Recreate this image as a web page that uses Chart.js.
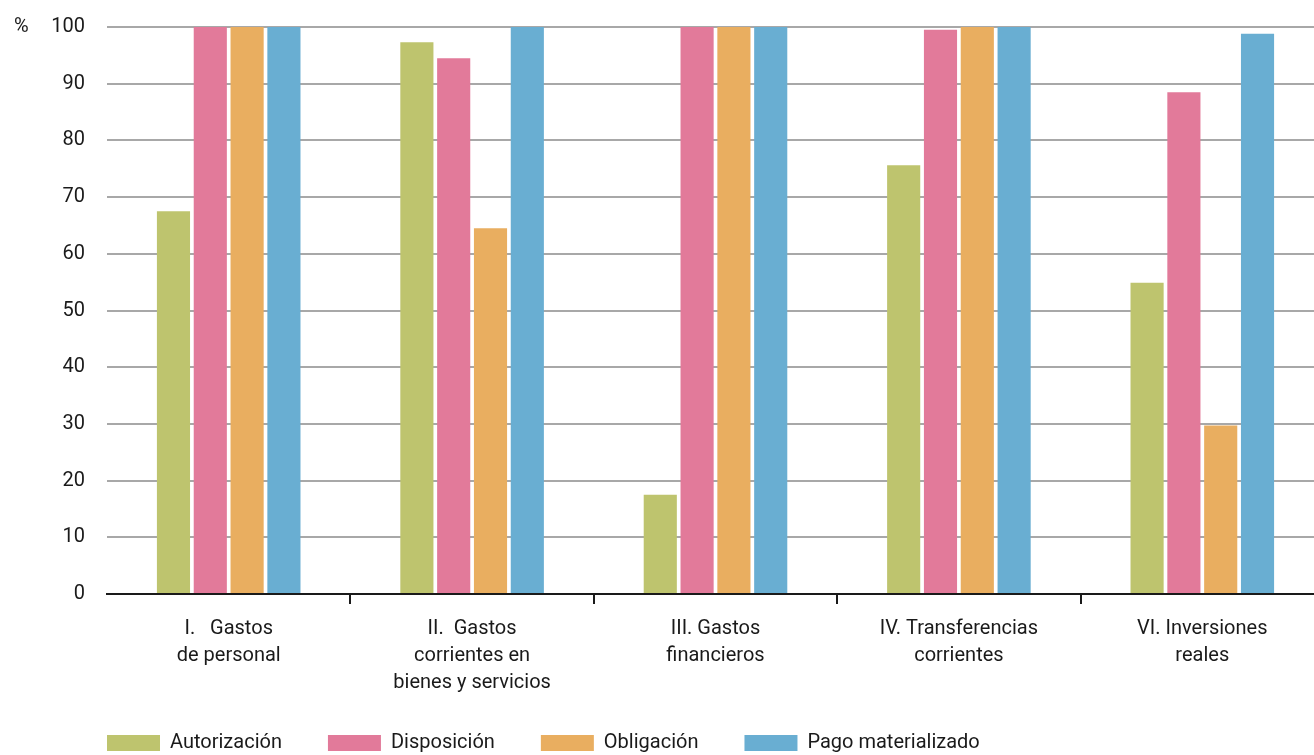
<!DOCTYPE html>
<html>
<head>
<meta charset="utf-8">
<script src="https://cdn.jsdelivr.net/npm/chart.js@4"></script>
<style>
  html, body { margin: 0; padding: 0; background: #fff; overflow: hidden; }
  /* el área de trazado sigue unos píxeles más allá del borde derecho */
  #wrap { width: 1314px; height: 755px; overflow: hidden; }
</style>
</head>
<body>
<div id="wrap"><canvas id="chart" width="1324" height="755"></canvas></div>
<script>
// Categorías y series (% de ejecución)
const categorias = [
    ['I.   Gastos', 'de personal'],
    ['II.  Gastos', 'corrientes en', 'bienes y servicios'],
    ['III. Gastos', 'financieros'],
    ['IV. Transferencias', 'corrientes'],
    ['VI. Inversiones', 'reales']
];
const autorizacion = [67.5, 97.3, 17.5, 75.6, 54.9];
const disposicion = [100, 94.5, 100, 99.5, 88.5];
const obligacion = [100, 64.5, 100, 100, 29.7];
const pagoMaterializado = [100, 100, 100, 100, 98.8];
const ticksY = [0, 10, 20, 30, 40, 50, 60, 70, 80, 90, 100];

const fuente = 'Roboto, "Liberation Sans", sans-serif';
const paddingLeyenda = 46;
const altoLeyenda = 48;

// Texto "%" arriba a la izquierda
const etiquetaPorcentaje = {
    id: 'etiquetaPorcentaje',
    afterDraw(chart) {
        const ctx = chart.ctx;
        const y = chart.scales.y.getPixelForValue(100);
        ctx.save();
        ctx.font = '20px ' + fuente;
        ctx.fillStyle = '#1a1a1a';
        ctx.textAlign = 'left';
        ctx.textBaseline = 'middle';
        ctx.fillText('%', 14, y);
        ctx.restore();
    }
};

// Leyenda: alto fijo, alineada con el eje
const moverLeyenda = {
    id: 'moverLeyenda',
    beforeLayout(chart) {
        const lg = chart.legend;
        if (lg && !lg._fitFijo) {
            const fitOriginal = lg.fit;
            lg.fit = function () {
                fitOriginal.call(this);
                this.height = altoLeyenda;
            };
            lg._fitFijo = true;
        }
    },
    afterLayout(chart) {
        const lg = chart.legend;
        const dx = chart.chartArea.left - paddingLeyenda - lg.left;
        lg.left += dx;
        lg.right += dx;
        lg.top = 743 - paddingLeyenda - 10;
        lg.bottom = chart.height;
    }
};

const serie = (label, data, color) => ({
    label, data,
    backgroundColor: color,
    borderWidth: 0,
    categoryPercentage: 0.605,
    barPercentage: 0.9
});

new Chart(document.getElementById('chart'), {
    type: 'bar',
    data: {
        labels: categorias,
        datasets: [
            serie('Autorización', autorizacion, '#bec46e'),
            serie('Disposición', disposicion, '#e27a9a'),
            serie('Obligación', obligacion, '#e9ae60'),
            serie('Pago materializado', pagoMaterializado, '#69aed2')
        ]
    },
    options: {
        responsive: false,
        animation: false,
        layout: { padding: { left: 0, right: 0, top: 27, bottom: 0 } },
        plugins: {
            tooltip: { enabled: false },
            legend: {
                position: 'bottom',
                align: 'start',
                labels: {
                    boxWidth: 53,
                    boxHeight: 16,
                    padding: paddingLeyenda,
                    color: '#1a1a1a',
                    font: { family: fuente, size: 20 }
                }
            }
        },
        scales: {
            x: {
                offset: true,
                grid: {
                    offset: true,
                    drawOnChartArea: false,
                    drawTicks: true,
                    tickLength: 10,
                    lineWidth: 2,
                    color: ctx => (ctx.index === 0 || ctx.index >= categorias.length) ? 'rgba(0,0,0,0)' : '#1a1a1a'
                },
                border: { display: true, color: '#1a1a1a', width: 2 },
                ticks: {
                    color: '#1a1a1a',
                    maxRotation: 0,
                    autoSkip: false,
                    padding: 11,
                    font: { family: fuente, size: 20, lineHeight: 1.35 }
                }
            },
            y: {
                min: 0,
                max: 100,
                afterFit: s => { s.width = 107; },
                afterBuildTicks: s => { s.ticks = ticksY.map(v => ({ value: v })); },
                grid: {
                    color: '#a8a8a8',
                    lineWidth: 2,
                    drawTicks: true,
                    tickLength: 20,
                    tickColor: 'rgba(0,0,0,0)'
                },
                border: { display: false },
                ticks: {
                    color: '#1a1a1a',
                    padding: 2,
                    font: { family: fuente, size: 20 }
                }
            }
        }
    },
    plugins: [etiquetaPorcentaje, moverLeyenda]
});
</script>
</body>
</html>
